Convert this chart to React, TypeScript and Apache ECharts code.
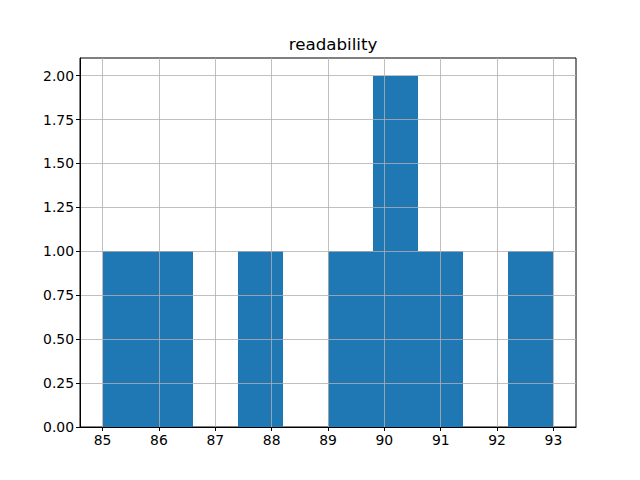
import React, { useEffect, useRef } from "react";
import * as echarts from "echarts";

const binStarts = [85.0, 85.8, 86.6, 87.4, 88.2, 89.0, 89.8, 90.6, 91.4, 92.2];
const binEnds = [85.8, 86.6, 87.4, 88.2, 89.0, 89.8, 90.6, 91.4, 92.2, 93.0];
const counts = [1, 1, 0, 1, 0, 1, 2, 1, 0, 1];
const xTicks = [85, 86, 87, 88, 89, 90, 91, 92, 93];
const yTicks = [0, 0.25, 0.5, 0.75, 1.0, 1.25, 1.5, 1.75, 2.0];

export default function App() {
  const ref = useRef<HTMLDivElement>(null);
  useEffect(() => {
    document.body.style.margin = "0";
    if (!ref.current) return;
    const chart = echarts.init(ref.current, null, { renderer: "svg" });
    const font = "DejaVu Sans";
    const data = binStarts.map((s, i) => [s, binEnds[i], counts[i]]);
    const gridStyle = { color: "#b0b0b0", width: 0.8, type: "solid" as const };
    chart.setOption({
      animation: false,
      backgroundColor: "#ffffff",
      title: {
        text: "readability",
        left: 328,
        top: 30,
        textAlign: "center",
        textStyle: { fontFamily: font, fontSize: 16.7, fontWeight: "normal", color: "#000" },
      },
      grid: {
        left: 80,
        top: 58,
        width: 496,
        height: 369,
        show: true,
        borderColor: "#000",
        borderWidth: 1,
        backgroundColor: "transparent",
      },
      xAxis: {
        type: "value",
        min: 84.6,
        max: 93.4,
        z: 10,
        axisLine: { show: true, onZero: false, lineStyle: { color: "#000", width: 1 } },
        axisTick: { show: true, length: 4, customValues: xTicks, lineStyle: { color: "#000" } },
        axisLabel: {
          customValues: xTicks,
          margin: 6,
          color: "#000",
          fontFamily: font,
          fontSize: 13.9,
          formatter: (v: number) => String(Math.round(v)),
        },
        splitLine: { show: false },
      },
      yAxis: {
        type: "value",
        min: 0,
        max: 2.1,
        interval: 0.25,
        z: 10,
        axisLine: { show: true, lineStyle: { color: "#000", width: 1 } },
        axisTick: { show: true, length: 4, customValues: yTicks, lineStyle: { color: "#000" } },
        axisLabel: {
          customValues: yTicks,
          margin: 6,
          color: "#000",
          fontFamily: font,
          fontSize: 13.9,
          formatter: (v: number) => v.toFixed(2),
        },
        splitLine: { show: false },
      },
      series: [
        {
          type: "custom",
          data,
          encode: { x: [0, 1], y: 2 },
          renderItem: (params: any, api: any) => {
            const x0 = api.value(0);
            const x1 = api.value(1);
            const c = api.value(2);
            if (!c) return null;
            const p0 = api.coord([x0, 0]);
            const p1 = api.coord([x1, c]);
            const left = Math.round(p0[0]);
            const right = Math.round(p1[0]);
            const top = Math.round(p1[1]);
            const bottom = Math.round(p0[1]);
            return {
              type: "rect",
              shape: { x: left, y: top, width: right - left, height: bottom - top },
              style: { fill: "#1f77b4" },
            };
          },
          markLine: {
            silent: true,
            symbol: ["none", "none"],
            z: 6,
            label: { show: false },
            lineStyle: gridStyle,
            emphasis: { disabled: true },
            data: [
              ...xTicks.map((v) => ({ xAxis: v })),
              ...yTicks.map((v) => ({ yAxis: v })),
            ],
          },
        },
      ],
    });
    return () => chart.dispose();
  }, []);
  return <div ref={ref} style={{ width: 640, height: 480 }} />;
}
